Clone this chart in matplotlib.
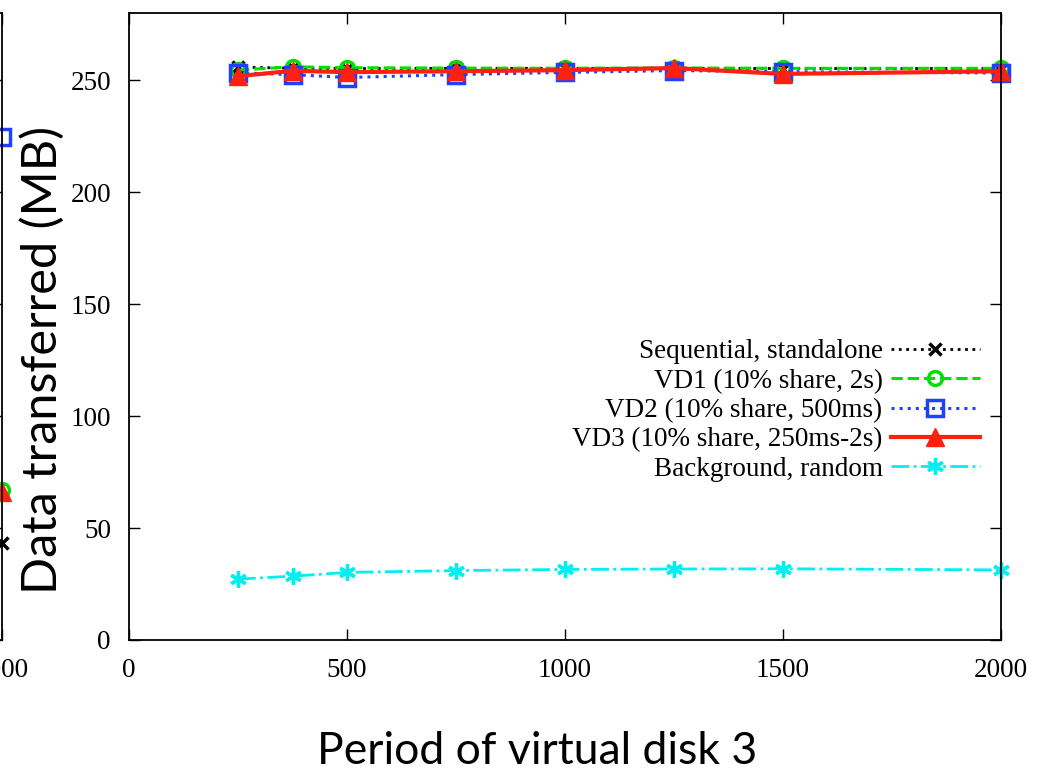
import matplotlib
matplotlib.use("Agg")
import matplotlib.pyplot as plt
import numpy as np

# period of virtual disk 3 (ms)
period = [250, 375, 500, 750, 1000, 1250, 1500, 2000]

seq_standalone = [255.8, 255.4, 255.2, 255.3, 255.3, 255.3, 255.2, 255.2]
vd1 = [254.5, 256.0, 255.6, 255.4, 255.3, 255.5, 255.3, 255.3]
vd2 = [253.3, 252.5, 251.2, 252.5, 253.5, 254.3, 253.8, 253.2]
vd3 = [251.8, 254.2, 253.6, 254.0, 254.5, 255.4, 252.8, 254.0]
background = [27.2, 28.5, 30.2, 31.0, 31.5, 31.7, 31.8, 31.3]

labels = ["Sequential, standalone", "VD1 (10% share, 2s)", "VD2 (10% share, 500ms)",
          "VD3 (10% share, 250ms-2s)", "Background, random"]

# neighbouring panel, only its last points show at the left edge
prev_x = [2000]
prev_seq = [43.2]
prev_vd1 = [66.8]
prev_vd2 = [224.6]
prev_vd3 = [66.0]

serif = "Liberation Serif"
sans = "Lato"
fs = 19.5

fig = plt.figure(figsize=(10.42, 7.75), dpi=100)


def style_axes(ax):
    ax.set_xlim(0, 2000)
    ax.set_ylim(0, 280)
    ax.set_xticks([0, 500, 1000, 1500, 2000])
    ax.set_yticks([0, 50, 100, 150, 200, 250])
    ax.tick_params(direction="in", length=8, width=1, top=True, right=True,
                   labelsize=fs, pad=13)
    for lab in ax.get_xticklabels() + ax.get_yticklabels():
        lab.set_family(serif)
    for sp in ax.spines.values():
        sp.set_linewidth(1.3)


def draw_series(ax, x, s, g, b, r, c=None):
    ax.plot(x, s, color="black", linestyle=":", lw=2, marker="x", ms=9, mew=2.5, label=labels[0])
    ax.plot(x, g, color="#00e000", linestyle="--", lw=2.2, marker="o", ms=10, mfc="none", mew=2.5,
            label=labels[1])
    ax.plot(x, b, color="#2040ff", linestyle=":", lw=2.2, marker="s", ms=11, mfc="none", mew=2.5,
            label=labels[2])
    ax.plot(x, r, color="#ff2010", linestyle="-", lw=3, marker="^", ms=13, label=labels[3])
    if c is not None:
        ax.plot(x, c, color="#00f0f0", linestyle="-.", lw=2, marker=(6, 2, 0), ms=12, mew=2.4,
                label=labels[4])


# cut-off left panel
ax0 = fig.add_axes([0.002 - 0.84, 0.1742, 0.84, 0.809])
draw_series(ax0, prev_x, prev_seq, prev_vd1, prev_vd2, prev_vd3)
for ln in ax0.lines:
    ln.set_clip_on(False)
style_axes(ax0)
ax0.set_xticks([2000])
ax0.tick_params(labelleft=False)

# main panel
ax = fig.add_axes([0.1238, 0.1742, 0.8369, 0.809])
draw_series(ax, period, seq_standalone, vd1, vd2, vd3, background)
for ln in ax.lines:
    ln.set_clip_on(False)
style_axes(ax)

ax.legend(loc="center right", bbox_to_anchor=(0.976, 0.366), frameon=False, markerfirst=False,
          handlelength=3.3, handletextpad=0.3, labelspacing=0.16, borderpad=0,
          borderaxespad=0, prop={"family": serif, "size": fs})

fig.text(0.041, 0.535, "Data transferred (MB)", rotation=90, ha="center", va="center",
         family=sans, fontsize=35)
fig.text(0.515, 0.03, "Period of virtual disk 3", ha="center", va="center",
         family=sans, fontsize=32)

fig.savefig("out.png", dpi=100)
